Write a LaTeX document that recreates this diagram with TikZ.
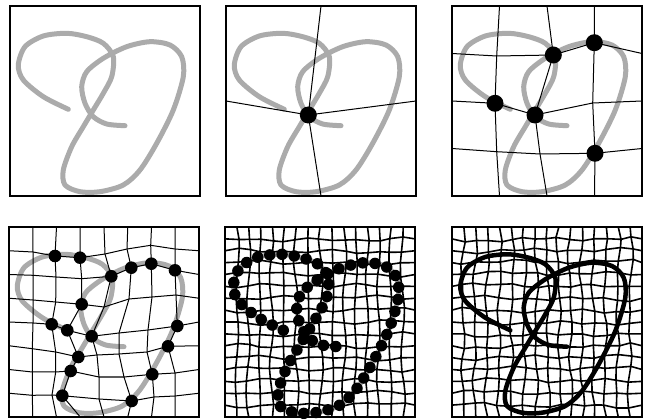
\documentclass[tikz,border=0pt]{standalone}

% the same knot in every panel, local pixel coordinates of a 190x190 box
\newcommand{\knotpath}{plot[smooth] coordinates {(58.3,103.3) (33.3,90.7) (13.3,74) (8.3,59) (15,40.7) (33.3,30) (56.7,27.3) (76.7,30.7) (93.3,37.3) (103.3,50.7) (101.7,70.7) (93.3,87.3) (83.3,104) (73.3,120.7) (61.7,140.7) (53.3,164) (55,179) (70,185.7) (90,185.7) (113.3,179) (130,164) (146.7,137.3) (163.3,104) (173.3,70.7) (171.7,50.7) (160,39) (140,35.7) (116.7,40.7) (93.3,52.3) (76.7,65.7) (71.7,80.7) (75,97.3) (83.3,110.7) (96.7,118) (115,119.7)}}

\begin{document}
\begin{tikzpicture}[x=1pt, y=-1pt,
    frame/.style={draw=black, line width=1.2pt},
    mesh/.style={black, line width=1pt},
    finemesh/.style={black, line width=1.6pt, line join=round},
    knot/.style={knotgray, line width=5pt, line cap=round, line join=round},
    beads/.style={black, line width=11.5pt, line cap=round, dash pattern=on 0pt off 12.3pt}]
    \colorlet{knotgray}{black!33}
    \useasboundingbox (0,0) rectangle (645,419);

    % panel 1: curve only
    \begin{scope}[shift={(10,6)}]
        \draw[knot] \knotpath;
        \draw[frame] (0,0) rectangle (190,190);
    \end{scope}

    % panel 2: one vertex
    \begin{scope}[shift={(226,6)}]
        \coordinate (p2-c) at (82.3,109);
        \coordinate (p2-n) at (95,0);
        \coordinate (p2-s) at (95,190);
        \coordinate (p2-w) at (0,95);
        \coordinate (p2-e) at (190,95);
        \draw[knot] \knotpath;
        \draw[mesh] (p2-n) -- (p2-c) -- (p2-s);
        \draw[mesh] (p2-w) -- (p2-c) -- (p2-e);
        \fill (p2-c) circle (8.5pt);
        \draw[frame] (0,0) rectangle (190,190);
    \end{scope}

    % panel 3: 4x4 mesh
    \begin{scope}[shift={(452,6)}]
        \foreach \k in {0,...,4} {
            \coordinate (p3-\k-0) at (\k*47.5,0);
            \coordinate (p3-\k-4) at (\k*47.5,190);
            \coordinate (p3-0-\k) at (0,\k*47.5);
            \coordinate (p3-4-\k) at (190,\k*47.5);
        }
        \foreach \x/\y [count=\i] in {44.7/50, 101.3/49, 142.3/36.7} \coordinate (p3-\i-1) at (\x,\y);
        \foreach \x/\y [count=\i] in {43/97.3, 83/109, 140.7/97} \coordinate (p3-\i-2) at (\x,\y);
        \foreach \x/\y [count=\i] in {44.7/145.7, 88/148, 143/147.3} \coordinate (p3-\i-3) at (\x,\y);
        \draw[knot] \knotpath;
        \foreach \k in {1,...,3} {
            \draw[mesh] (p3-\k-0) \foreach \j in {1,...,4} {-- (p3-\k-\j)};
            \draw[mesh] (p3-0-\k) \foreach \j in {1,...,4} {-- (p3-\j-\k)};
        }
        \foreach \v in {2-1,3-1,1-2,2-2,3-3} \fill (p3-\v) circle (8.5pt);
        \draw[frame] (0,0) rectangle (190,190);
    \end{scope}

    % panel 4: 8x8 mesh
    \begin{scope}[shift={(9,227)}]
        \foreach \k in {0,...,8} {
            \coordinate (p4-\k-0) at (\k*23.75,0);
            \coordinate (p4-\k-8) at (\k*23.75,190);
            \coordinate (p4-0-\k) at (0,\k*23.75);
            \coordinate (p4-8-\k) at (190,\k*23.75);
        }
        \foreach \x/\y [count=\i] in {24/25, 46/29, 71/30.7, 96/27, 118/22, 141.7/18.3, 166/22} \coordinate (p4-\i-1) at (\x,\y);
        \foreach \x/\y [count=\i] in {24/48.3, 47/50, 72.7/51.7, 102.3/49.3, 122.3/40.7, 142.3/36.7, 166/43.3} \coordinate (p4-\i-2) at (\x,\y);
        \foreach \x/\y [count=\i] in {24/73, 46.7/75, 72.7/77.3, 95/80, 120/72, 143/70, 167/68} \coordinate (p4-\i-3) at (\x,\y);
        \foreach \x/\y [count=\i] in {24/96, 42.7/97.3, 58.3/103.3, 82.7/109.3, 110/106, 139/103, 168.3/99} \coordinate (p4-\i-4) at (\x,\y);
        \foreach \x/\y [count=\i] in {23.3/121.7, 46.7/125, 69.3/130, 88/128, 110/127, 138/125, 159/119.3} \coordinate (p4-\i-5) at (\x,\y);
        \foreach \x/\y [count=\i] in {23.3/145, 46.7/145, 61.7/144, 90/150, 115/150, 143.3/147.3, 166/146} \coordinate (p4-\i-6) at (\x,\y);
        \foreach \x/\y [count=\i] in {23.3/168.3, 43/168, 53.3/168.7, 90/172, 122.7/174, 145/170, 166/169} \coordinate (p4-\i-7) at (\x,\y);
        \draw[knot] \knotpath;
        \foreach \k in {1,...,7} {
            \draw[mesh] (p4-\k-0) \foreach \j in {1,...,8} {-- (p4-\k-\j)};
            \draw[mesh] (p4-0-\k) \foreach \j in {1,...,8} {-- (p4-\j-\k)};
        }
        \foreach \v in {2-1,3-1,4-2,5-2,6-2,7-2,3-3,2-4,3-4,4-4,7-4,3-5,7-5,3-6,6-6,3-7,5-7}
            \fill (p4-\v) circle (6.3pt);
        \draw[frame] (0,0) rectangle (190,190);
    \end{scope}

    % panel 5: 16x16 mesh, dots along the curve
    \begin{scope}[shift={(225,227)}]
        \foreach \i in {0,...,16} \foreach \j in {0,...,16} {
            \pgfmathsetmacro{\dx}{(\i>0)*(\i<16)*(\j>0)*(\j<16)*(1.1*sin(\i*127+\j*311)+2.2*sin(\i*38+\j*27)*sin(\j*21+15))}
            \pgfmathsetmacro{\dy}{(\i>0)*(\i<16)*(\j>0)*(\j<16)*(1.1*sin(\i*269+\j*183)+2.2*sin(\i*29-\j*44)*sin(\i*19+30))}
            \coordinate (p5-\i-\j) at (\i*11.875+\dx,\j*11.875+\dy);
        }
        \draw[knot] \knotpath;
        \foreach \k in {1,...,15} {
            \draw[finemesh] (p5-\k-0) \foreach \j in {1,...,16} {-- (p5-\k-\j)};
            \draw[finemesh] (p5-0-\k) \foreach \j in {1,...,16} {-- (p5-\j-\k)};
        }
        \draw[beads] \knotpath;
        \draw[frame] (0,0) rectangle (190,190);
    \end{scope}

    % panel 6: 16x16 mesh, black curve
    \begin{scope}[shift={(452,227)}]
        \foreach \i in {0,...,16} \foreach \j in {0,...,16} {
            \pgfmathsetmacro{\dx}{(\i>0)*(\i<16)*(\j>0)*(\j<16)*(1.2*sin(\i*113+\j*277+50)+2.6*sin(\i*33-\j*26)*sin(\j*17+25))}
            \pgfmathsetmacro{\dy}{(\i>0)*(\i<16)*(\j>0)*(\j<16)*(1.2*sin(\i*251+\j*157+20)+2.6*sin(\i*24+\j*41)*sin(\i*15+40))}
            \coordinate (p6-\i-\j) at (\i*11.875+\dx,\j*11.875+\dy);
        }
        \foreach \k in {1,...,15} {
            \draw[finemesh] (p6-\k-0) \foreach \j in {1,...,16} {-- (p6-\k-\j)};
            \draw[finemesh] (p6-0-\k) \foreach \j in {1,...,16} {-- (p6-\j-\k)};
        }
        \draw[knot, black, line width=4.5pt] \knotpath;
        \draw[frame] (0,0) rectangle (190,190);
    \end{scope}
\end{tikzpicture}
\end{document}
